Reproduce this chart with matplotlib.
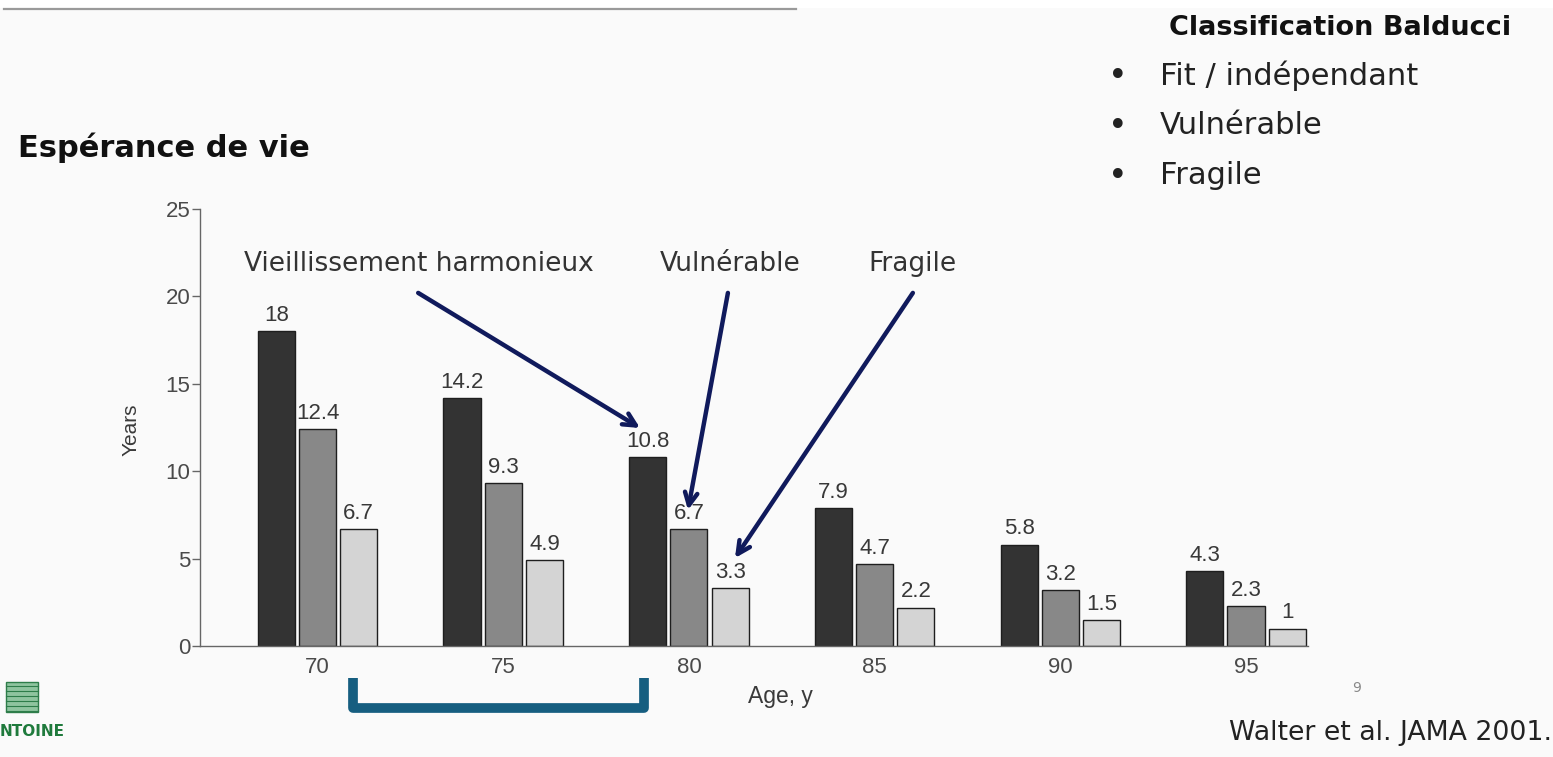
import numpy as np
import matplotlib.pyplot as plt
from matplotlib.lines import Line2D
from matplotlib.patches import Rectangle

# life expectancy (years) by age group and health status
ages = ['70', '75', '80', '85', '90', '95']
healthy = [18, 14.2, 10.8, 7.9, 5.8, 4.3]
vulnerable = [12.4, 9.3, 6.7, 4.7, 3.2, 2.3]
frail = [6.7, 4.9, 3.3, 2.2, 1.5, 1]

COLORS = ['#333333', '#888888', '#d4d4d4']
NAVY = '#101a5c'
SLIDE_FONT = ['DejaVu Sans']
CHART_FONT = ['Liberation Sans', 'DejaVu Sans']

W, H = 1553, 757
fig = plt.figure(figsize=(W / 100, H / 100), dpi=100, facecolor='#fafafa')
ax = fig.add_axes([200 / W, 1 - 646 / H, 1108 / W, 437 / H])
ax.set_facecolor('#fafafa')

x = np.arange(len(ages))
step = 0.222
width = 0.2
for k, (vals, col) in enumerate(zip([healthy, vulnerable, frail], COLORS)):
    bars = ax.bar(x + (k - 1) * step, vals, width, color=col,
                  edgecolor='#1e1e1e', linewidth=1.0, zorder=2)
    for b, v in zip(bars, vals):
        ax.text(b.get_x() + b.get_width() / 2, v + 0.3, '%g' % v,
                ha='center', va='bottom', fontsize=16, color='#383838',
                family=CHART_FONT)

ax.set_xlim(-0.633, 5.334)
ax.set_ylim(0, 25)
ax.set_yticks([0, 5, 10, 15, 20, 25])
ax.set_xticks(x)
ax.set_xticklabels(ages)
for s in ['top', 'right']:
    ax.spines[s].set_visible(False)
for s in ['left', 'bottom']:
    ax.spines[s].set_color('#666666')
    ax.spines[s].set_linewidth(1.0)
ax.tick_params(axis='y', length=6, width=1, color='#666666', labelsize=16,
               labelcolor='#4a4a4a', pad=1)
ax.tick_params(axis='x', length=0, labelsize=16, labelcolor='#4a4a4a', pad=8)
for lab in ax.get_xticklabels() + ax.get_yticklabels():
    lab.set_family(CHART_FONT)
ax.set_xlabel('Age, y', fontsize=16.5, color='#3a3a3a', family=CHART_FONT)
ax.xaxis.set_label_coords((780 - 200) / 1108, -(685 - 646) / 437)
ax.set_ylabel('Years', fontsize=15, color='#3a3a3a', family=CHART_FONT)
ax.yaxis.set_label_coords(-(200 - 141) / 1108, (646 - 430) / 437)

# labels and arrows pointing at the 80-year group
ann = dict(fontsize=19, color='#333333', family=SLIDE_FONT, ha='center',
           va='center')
ax.text(0.544, 21.85, 'Vieillissement harmonieux', **ann)
ax.text(2.221, 21.85, 'Vulnérable', **ann)
ax.text(3.204, 21.85, 'Fragile', **ann)
arrow = dict(arrowstyle='->,head_length=0.9,head_width=0.45', color=NAVY,
             lw=3.2, shrinkA=0, shrinkB=0)
ax.annotate('', xy=(1.737, 12.47), xytext=(0.542, 20.2), arrowprops=arrow)
ax.annotate('', xy=(1.995, 7.78), xytext=(2.21, 20.2), arrowprops=arrow)
ax.annotate('', xy=(2.248, 5.03), xytext=(3.206, 20.2), arrowprops=arrow)


# slide decorations, in pixel coordinates from the top-left corner
def fx(px):
    return px / W


def fy(py):
    return 1 - py / H


fig.add_artist(Rectangle((0, fy(8)), 1, 8 / H, transform=fig.transFigure,
                         facecolor='white', edgecolor='none'))
fig.add_artist(Line2D([fx(4), fx(796)], [fy(9), fy(9)], color='#9a9a9a',
                      lw=1.6, transform=fig.transFigure))

fig.text(fx(18), fy(148), 'Espérance de vie', fontsize=22, fontweight='bold',
         color='#111111', family=SLIDE_FONT, va='center')
fig.text(fx(1340), fy(28), 'Classification Balducci', fontsize=19.5,
         fontweight='bold', color='#111111', family=SLIDE_FONT,
         va='center', ha='center')
for i, item in enumerate(['Fit / indépendant', 'Vulnérable', 'Fragile']):
    yy = fy(76 + 50 * i)
    fig.text(fx(1118), yy, '•', fontsize=24, color='#222222',
             family=SLIDE_FONT, va='center', ha='center')
    fig.text(fx(1160), yy, item, fontsize=22, color='#222222',
             family=SLIDE_FONT, va='center')

fig.text(fx(1357), fy(688), '9', fontsize=10, color='#888888',
         family=SLIDE_FONT, va='center', ha='center')
fig.text(fx(1552), fy(733), 'Walter et al. JAMA 2001.', fontsize=19.3,
         color='#222222', family=SLIDE_FONT, va='center', ha='right')

# bracket under the 70-80 age range
fig.add_artist(Line2D([fx(353), fx(353), fx(644), fx(644)],
                      [fy(678), fy(708), fy(708), fy(678)],
                      color='#165e80', lw=7, solid_joinstyle='round',
                      solid_capstyle='butt', transform=fig.transFigure))

# logo fragment at the bottom-left
fig.add_artist(Rectangle((fx(6), fy(712)), 32 / W, 30 / H,
                         transform=fig.transFigure, facecolor='#8fc49f',
                         edgecolor='#2e7d4a', lw=1))
for py in range(686, 712, 5):
    fig.add_artist(Line2D([fx(6), fx(38)], [fy(py), fy(py)], color='#2e7d4a',
                          lw=0.8, transform=fig.transFigure))
fig.text(fx(0), fy(732), 'NTOINE', fontsize=11, fontweight='bold',
         color='#1f7a3c', family=SLIDE_FONT, va='center')

fig.savefig('out.png', dpi=100, facecolor=fig.get_facecolor())
